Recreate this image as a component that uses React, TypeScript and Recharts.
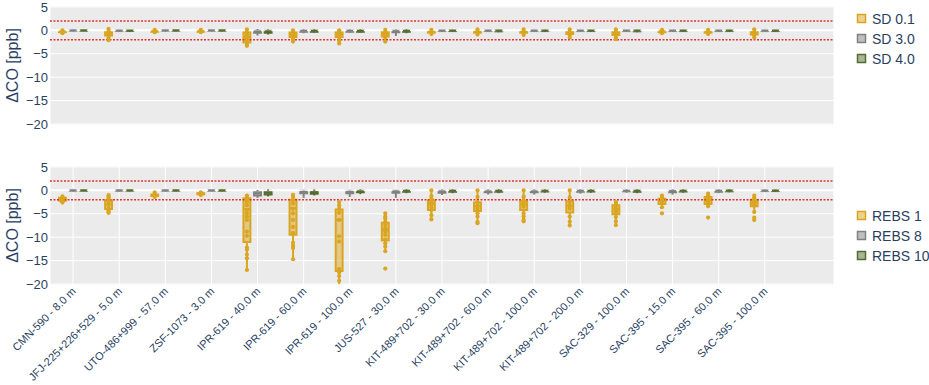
import React from 'react';
import {
  ComposedChart,
  XAxis,
  YAxis,
  CartesianGrid,
  ReferenceArea,
  ReferenceLine,
  Scatter,
} from 'recharts';

const stations = [
  'CMN-590 - 8.0 m',
  'JFJ-225+226+529 - 5.0 m',
  'UTO-486+999 - 57.0 m',
  'ZSF-1073 - 3.0 m',
  'IPR-619 - 40.0 m',
  'IPR-619 - 60.0 m',
  'IPR-619 - 100.0 m',
  'JUS-527 - 30.0 m',
  'KIT-489+702 - 30.0 m',
  'KIT-489+702 - 60.0 m',
  'KIT-489+702 - 100.0 m',
  'KIT-489+702 - 200.0 m',
  'SAC-329 - 100.0 m',
  'SAC-395 - 15.0 m',
  'SAC-395 - 60.0 m',
  'SAC-395 - 100.0 m',
];

const yTicks = [5, 0, -5, -10, -15, -20];
const thresholds = [2, -2];

// box stats per station: [min, q1, median, q3, max]
const sd01Stats = [
  [-0.6, -0.4, -0.25, -0.1, 0.0],
  [-2.1, -1.1, -0.6, -0.1, 0.3],
  [-0.5, -0.3, -0.15, 0.0, 0.1],
  [-0.5, -0.3, -0.15, 0.0, 0.1],
  [-3.3, -2.6, -1.4, -0.4, 0.2],
  [-2.4, -1.4, -0.9, -0.4, 0.0],
  [-2.8, -1.4, -0.9, -0.4, 0.0],
  [-2.4, -1.3, -0.8, -0.3, 0.1],
  [-0.8, -0.5, -0.3, -0.1, 0.1],
  [-0.9, -0.5, -0.3, -0.1, 0.2],
  [-1.0, -0.5, -0.3, -0.1, 0.2],
  [-1.5, -0.8, -0.5, -0.1, 0.2],
  [-1.9, -1.0, -0.6, -0.2, 0.2],
  [-0.6, -0.4, -0.2, -0.05, 0.1],
  [-0.8, -0.5, -0.3, -0.1, 0.1],
  [-1.5, -0.9, -0.5, -0.1, 0.2],
];
const sd30Stats = [
  [-0.2, -0.1, 0.0, 0.05, 0.1],
  [-0.3, -0.15, -0.05, 0.05, 0.1],
  [-0.2, -0.1, 0.0, 0.05, 0.1],
  [-0.2, -0.1, 0.0, 0.05, 0.1],
  [-1.1, -0.5, -0.2, 0.05, 0.3],
  [-0.6, -0.3, -0.1, 0.05, 0.2],
  [-0.5, -0.3, -0.1, 0.05, 0.2],
  [-1.2, -0.4, -0.15, 0.1, 0.2],
  [-0.3, -0.15, -0.05, 0.05, 0.1],
  [-0.3, -0.15, -0.05, 0.05, 0.1],
  [-0.3, -0.15, -0.05, 0.05, 0.1],
  [-0.3, -0.15, -0.05, 0.05, 0.1],
  [-0.3, -0.15, -0.05, 0.05, 0.1],
  [-0.3, -0.15, -0.05, 0.05, 0.1],
  [-0.3, -0.15, -0.05, 0.05, 0.1],
  [-0.3, -0.15, -0.05, 0.05, 0.1],
];
const sd40Stats = [
  [-0.2, -0.1, 0.0, 0.05, 0.1],
  [-0.3, -0.15, -0.05, 0.05, 0.1],
  [-0.2, -0.1, 0.0, 0.05, 0.1],
  [-0.2, -0.1, 0.0, 0.05, 0.1],
  [-0.9, -0.5, -0.2, 0.0, 0.2],
  [-0.5, -0.3, -0.1, 0.05, 0.2],
  [-0.5, -0.3, -0.1, 0.05, 0.2],
  [-0.6, -0.3, -0.1, 0.05, 0.2],
  [-0.3, -0.15, -0.05, 0.05, 0.1],
  [-0.4, -0.2, -0.05, 0.05, 0.1],
  [-0.3, -0.15, -0.05, 0.05, 0.1],
  [-0.3, -0.15, -0.05, 0.05, 0.1],
  [-0.4, -0.2, -0.05, 0.05, 0.1],
  [-0.3, -0.15, -0.05, 0.05, 0.1],
  [-0.3, -0.15, -0.05, 0.05, 0.1],
  [-0.3, -0.15, -0.05, 0.05, 0.1],
];
const sd01Points = [
  [0.0, -0.2, -0.4, -0.6],
  [0.3, -0.2, -0.6, -1.0, -1.5, -2.1],
  [0.1, -0.2, -0.4],
  [0.1, -0.2, -0.4],
  [0.2, -0.4, -0.8, -1.2, -1.6, -2.0, -2.5, -2.9, -3.3],
  [0.0, -0.5, -1.0, -1.5, -2.0, -2.4],
  [0.0, -0.5, -1.0, -1.5, -2.2, -2.8],
  [0.1, -0.5, -1.0, -1.5, -2.4],
  [0.1, -0.3, -0.8],
  [0.2, -0.3, -0.9],
  [0.2, -0.4, -1.0],
  [0.2, -0.5, -1.0, -1.5],
  [0.2, -0.5, -1.0, -1.5, -1.9],
  [0.1, -0.3, -0.6],
  [0.1, -0.4, -0.8],
  [0.2, -0.5, -1.0, -1.5],
];

const rebs1Stats = [
  [-2.6, -2.2, -1.9, -1.6, -1.3],
  [-4.8, -4.0, -3.0, -2.1, -1.0],
  [-1.4, -1.2, -1.0, -0.9, -0.4],
  [-1.0, -0.85, -0.7, -0.6, -0.4],
  [-17.0, -11.0, -4.0, -1.7, -1.1],
  [-14.7, -9.5, -3.8, -2.0, -0.95],
  [-20.0, -17.2, -6.3, -4.1, -2.4],
  [-13.0, -10.7, -8.4, -6.9, -4.9],
  [-6.2, -4.2, -2.9, -2.1, 0.0],
  [-7.0, -4.4, -3.4, -2.6, 0.0],
  [-6.6, -4.2, -3.0, -2.3, 0.0],
  [-7.5, -4.7, -3.3, -2.3, 0.0],
  [-7.4, -5.1, -4.0, -3.2, -2.5],
  [-3.6, -2.9, -2.1, -1.8, -1.1],
  [-3.4, -2.9, -2.0, -1.4, -0.7],
  [-4.6, -3.4, -2.6, -2.0, -1.1],
];
const rebs8Stats = [
  [-0.2, -0.1, 0.0, 0.05, 0.15],
  [-0.2, -0.1, 0.0, 0.05, 0.15],
  [-0.2, -0.1, 0.0, 0.05, 0.15],
  [-0.2, -0.1, 0.0, 0.05, 0.15],
  [-1.6, -1.1, -0.6, -0.2, 0.1],
  [-1.6, -0.6, -0.3, 0.0, 0.1],
  [-1.4, -0.6, -0.3, 0.0, 0.1],
  [-1.6, -0.5, -0.2, 0.0, 0.1],
  [-1.0, -0.5, -0.2, 0.0, 0.2],
  [-0.9, -0.4, -0.2, 0.0, 0.2],
  [-0.9, -0.4, -0.2, 0.0, 0.2],
  [-0.7, -0.3, -0.1, 0.05, 0.2],
  [-0.5, -0.2, -0.1, 0.05, 0.2],
  [-0.9, -0.4, -0.15, 0.05, 0.2],
  [-0.6, -0.3, -0.1, 0.05, 0.2],
  [-0.3, -0.15, -0.05, 0.05, 0.15],
];
const rebs10Stats = [
  [-0.2, -0.1, 0.0, 0.05, 0.15],
  [-0.2, -0.1, 0.0, 0.05, 0.15],
  [-0.2, -0.1, 0.0, 0.05, 0.15],
  [-0.2, -0.1, 0.0, 0.05, 0.15],
  [-1.3, -0.9, -0.5, -0.1, 0.2],
  [-1.1, -0.7, -0.4, -0.1, 0.2],
  [-0.8, -0.4, -0.2, 0.0, 0.2],
  [-0.6, -0.3, -0.1, 0.05, 0.2],
  [-0.6, -0.3, -0.1, 0.05, 0.2],
  [-0.6, -0.3, -0.1, 0.05, 0.2],
  [-0.5, -0.25, -0.1, 0.05, 0.2],
  [-0.5, -0.25, -0.1, 0.05, 0.2],
  [-0.6, -0.3, -0.1, 0.05, 0.2],
  [-0.5, -0.25, -0.1, 0.05, 0.2],
  [-0.4, -0.2, -0.05, 0.05, 0.2],
  [-0.3, -0.15, -0.05, 0.05, 0.15],
];
const rebs1Points = [
  [-1.3, -1.5, -1.7, -1.9, -2.0, -2.2, -2.4, -2.6],
  [-1.0, -1.3, -1.6, -2.0, -2.3, -3.0, -3.8, -4.2, -4.5, -4.8],
  [-0.4, -0.9, -1.0, -1.1, -1.2, -1.4],
  [-0.4, -0.6, -0.7, -0.8, -1.0],
  [-1.1, -1.4, -2.0, -2.5, -3.2, -4.2, -4.9, -5.6, -6.3, -8.8, -9.7, -12.2, -12.6, -13.7, -14.5, -17.0],
  [-0.95, -1.4, -2.1, -2.8, -3.9, -4.9, -6.3, -7.8, -9.1, -11.2, -11.8, -12.3, -14.7],
  [-2.5, -3.2, -3.9, -4.8, -6.3, -9.8, -10.9, -16.8, -17.5, -18.3, -19.3],
  [-4.9, -5.6, -6.0, -6.7, -7.4, -8.1, -8.8, -9.5, -10.5, -11.3, -12.0, -13.0, -16.7],
  [0.0, -1.2, -1.8, -2.2, -2.6, -3.0, -3.6, -4.2, -5.3, -6.2],
  [0.0, -1.4, -2.5, -3.2, -3.9, -4.9, -5.6, -6.7, -7.0],
  [0.0, -1.3, -2.1, -2.8, -3.5, -4.9, -5.6, -6.3, -6.6],
  [0.0, -1.5, -2.5, -3.2, -3.9, -5.6, -6.7, -7.5],
  [-2.5, -2.9, -3.3, -3.8, -4.3, -4.8, -5.7, -6.6, -7.4],
  [-1.1, -1.5, -1.8, -2.1, -2.4, -2.8, -3.6, -4.9],
  [-0.7, -1.1, -1.5, -1.9, -2.3, -2.7, -3.4, -5.8],
  [-1.1, -1.6, -2.1, -2.5, -2.9, -3.3, -4.6, -5.8, -6.3],
];

const ORANGE = '#DAA520';
const GRAY = '#808080';
const GREEN = '#556B2F';
const TEXT = '#2a3f5f';
const FONT = '"Liberation Sans", Arial, sans-serif';

const offsets = [-0.23, 0, 0.23];
const BOX_HALF = 0.075;
const xTicks = stations.map((_, i) => i);

const fmtY = (v: number) => (v < 0 ? `\u2212${Math.abs(v)}` : `${v}`);

function boxElements(stats: number[][], offset: number, color: string, key: string) {
  return stats.flatMap(([lo, q1, med, q3, hi], i) => {
    const x = i + offset;
    return [
      <ReferenceLine key={`${key}-wl-${i}`} segment={[{ x, y: lo }, { x, y: q1 }]} stroke={color} strokeWidth={2} ifOverflow="hidden" />,
      <ReferenceLine key={`${key}-wh-${i}`} segment={[{ x, y: q3 }, { x, y: hi }]} stroke={color} strokeWidth={2} ifOverflow="hidden" />,
      <ReferenceArea
        key={`${key}-b-${i}`}
        x1={x - BOX_HALF}
        x2={x + BOX_HALF}
        y1={q1}
        y2={q3}
        fill={color}
        fillOpacity={0.5}
        stroke={color}
        strokeWidth={2}
        ifOverflow="hidden"
      />,
      <ReferenceLine
        key={`${key}-m-${i}`}
        segment={[{ x: x - BOX_HALF, y: med }, { x: x + BOX_HALF, y: med }]}
        stroke={color}
        strokeWidth={2}
        ifOverflow="hidden"
      />,
    ];
  });
}

function pointRows(points: number[][], offset: number) {
  return points.flatMap((vals, i) => vals.map((y) => ({ x: i + offset, y })));
}

function YTitle(props: any) {
  const vb = props.viewBox || { x: 0, y: 0, width: 50, height: 119 };
  const cx = vb.x + 12;
  const cy = vb.y + vb.height / 2;
  return (
    <text
      x={cx}
      y={cy}
      transform={`rotate(-90, ${cx}, ${cy})`}
      textAnchor="middle"
      dominantBaseline="central"
      fontSize={16}
      fill={TEXT}
      fontFamily={FONT}
    >
      ΔCO [ppb]
    </text>
  );
}

function StationTick(props: any) {
  const { x, y, payload } = props;
  const ax = x + 3.5;
  const ay = y + 5;
  return (
    <text
      x={ax}
      y={ay}
      transform={`rotate(-45, ${ax}, ${ay})`}
      textAnchor="end"
      fontSize={11}
      fill={TEXT}
      fontFamily={FONT}
    >
      {stations[payload.value]}
    </text>
  );
}

interface PanelProps {
  height: number;
  top: number;
  xAxisHeight: number;
  showLabels: boolean;
  stats: number[][][];
  colors: string[];
  points: number[][];
}

function Panel({ height, top, xAxisHeight, showLabels, stats, colors, points }: PanelProps) {
  return (
    <ComposedChart width={929} height={height} margin={{ top, right: 95, bottom: 0, left: 0 }}>
      <CartesianGrid stroke="#ffffff" strokeWidth={1} fill="#ebebeb" />
      <XAxis
        dataKey="x"
        type="number"
        domain={[-0.5, 16.5]}
        ticks={xTicks}
        interval={0}
        allowDataOverflow
        axisLine={false}
        tickLine={false}
        tickSize={0}
        tick={showLabels ? <StationTick /> : false}
        height={xAxisHeight}
      />
      <YAxis
        type="number"
        domain={[-20.2, 5.2]}
        ticks={yTicks}
        interval={0}
        allowDataOverflow
        axisLine={false}
        tickLine={false}
        tickSize={0}
        tickMargin={2}
        width={50}
        tickFormatter={fmtY}
        tick={{ fill: TEXT, fontSize: 13, fontFamily: FONT }}
        label={<YTitle />}
      />
      <ReferenceLine y={0} stroke="#ffffff" strokeWidth={2} />
      {stats.flatMap((s, k) => boxElements(s, offsets[k], colors[k], `s${k}`))}
      {thresholds.map((t) => (
        <ReferenceLine key={`thr-${t}`} y={t} stroke="#e03434" strokeWidth={1.5} strokeDasharray="2 1.5" />
      ))}
      <Scatter
        data={pointRows(points, offsets[0])}
        dataKey="y"
        isAnimationActive={false}
        shape={(p: any) => <circle cx={p.cx} cy={p.cy} r={2.1} fill={colors[0]} />}
      />
    </ComposedChart>
  );
}

function LegendBlock({ top, items }: { top: number; items: { name: string; color: string }[] }) {
  return (
    <div style={{ position: 'absolute', left: 856, top, fontFamily: FONT, fontSize: 14, color: TEXT, whiteSpace: 'nowrap' }}>
      {items.map((it) => (
        <div key={it.name} style={{ display: 'flex', alignItems: 'center', height: 20 }}>
          <svg width={12} height={12} style={{ marginRight: 4 }}>
            <rect x={1.5} y={1.5} width={8} height={8} fill={it.color} fillOpacity={0.5} stroke={it.color} strokeWidth={1.5} />
          </svg>
          <span>{it.name}</span>
        </div>
      ))}
    </div>
  );
}

export default function App() {
  return (
    <div style={{ position: 'absolute', left: 0, top: 0, width: 929, height: 385, background: '#fff' }}>
      <div style={{ position: 'absolute', left: 0, top: 0 }}>
        <Panel
          height={150}
          top={6}
          xAxisHeight={25}
          showLabels={false}
          stats={[sd01Stats, sd30Stats, sd40Stats]}
          colors={[ORANGE, GRAY, GREEN]}
          points={sd01Points}
        />
      </div>
      <div style={{ position: 'absolute', left: 0, top: 150 }}>
        <Panel
          height={235}
          top={16}
          xAxisHeight={100}
          showLabels
          stats={[rebs1Stats, rebs8Stats, rebs10Stats]}
          colors={[ORANGE, GRAY, GREEN]}
          points={rebs1Points}
        />
      </div>
      <LegendBlock
        top={8.5}
        items={[
          { name: 'SD 0.1', color: ORANGE },
          { name: 'SD 3.0', color: GRAY },
          { name: 'SD 4.0', color: GREEN },
        ]}
      />
      <LegendBlock
        top={206}
        items={[
          { name: 'REBS 1', color: ORANGE },
          { name: 'REBS 8', color: GRAY },
          { name: 'REBS 10', color: GREEN },
        ]}
      />
    </div>
  );
}
